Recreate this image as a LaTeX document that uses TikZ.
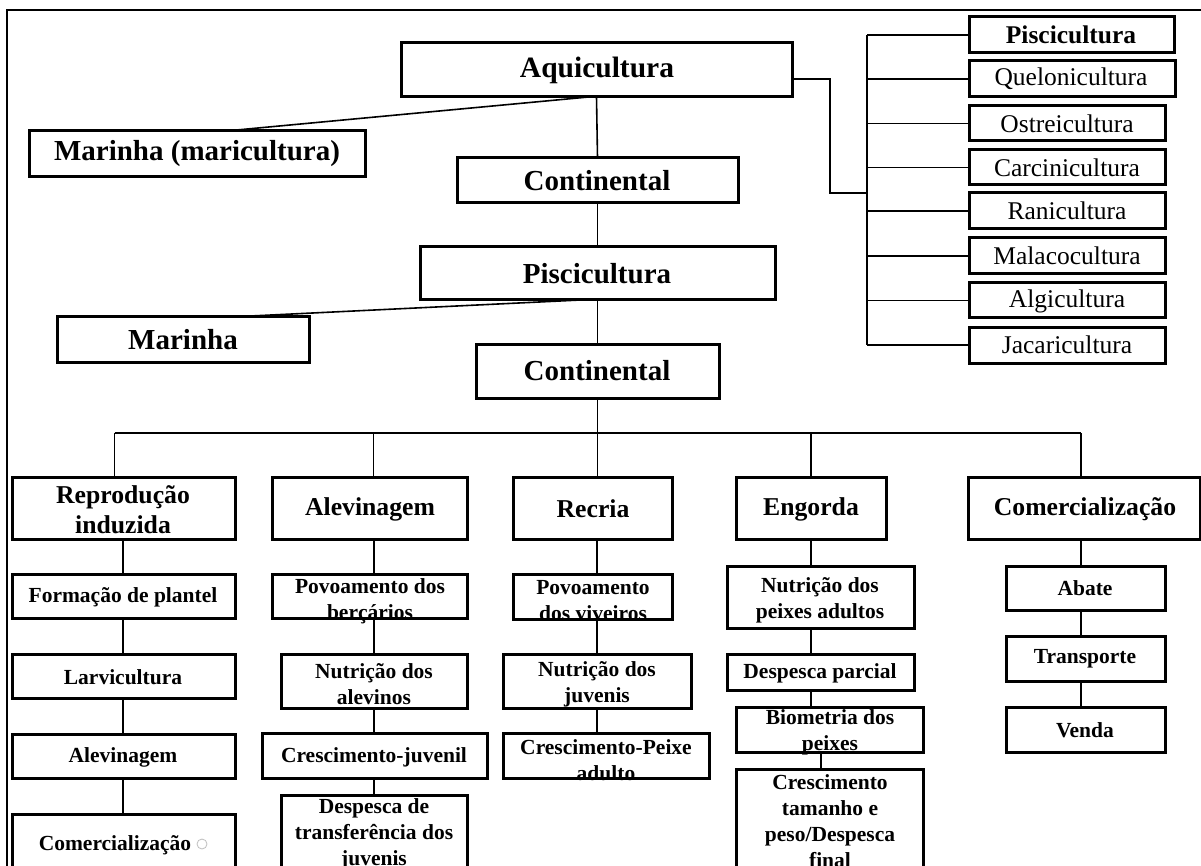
\documentclass[tikz,border=0pt]{standalone}
\usepackage{fontspec}
\setmainfont{Liberation Serif}
\usetikzlibrary{calc}
\tikzset{
  bx/.style={draw, line width=3pt, inner sep=0pt, outer sep=0pt, fill=white},
  ln/.style={line width=1.6pt},
  lbl/.style={align=center, inner sep=0pt, text=black},
  ftop/.style={lbl, font=\bfseries\fontsize{29.5}{34}\selectfont},
  fmid/.style={lbl, font=\bfseries\fontsize{29}{34}\selectfont},
  fright/.style={lbl, font=\fontsize{25.5}{30}\selectfont},
  frightb/.style={lbl, font=\bfseries\fontsize{25.5}{30}\selectfont},
  fhead/.style={lbl, font=\bfseries\fontsize{25.7}{30}\selectfont},
  fitem/.style={lbl, font=\bfseries\fontsize{21.5}{26}\selectfont},
}
% \mybox{name}{x1}{y1}{x2}{y2}{label style}{text}{text center x}{text center y}
\newcommand\mybox[9]{%
  \node[bx, minimum width={#4-#2}, minimum height={#5-#3}] (#1) at ({(#2+#4)/2},{(#3+#5)/2}) {};
  \node[#6] (#1-t) at (#8,#9) {#7};
}
\begin{document}
\begin{tikzpicture}[x=1pt,y=-1pt]
\useasboundingbox (0,0) rectangle (1201,866);
\clip (0,0) rectangle (1201,866);
\fill[white] (0,0) rectangle (1201,866);
% frame
\draw[line width=2.2pt] (7,870) -- (7,10) -- (1205,10);

% upper part
\mybox{aq}{401}{43}{792}{97}{ftop}{Aquicultura}{597}{70}
\mybox{marm}{29}{131}{365}{177}{fmid}{Marinha (maricultura)}{197}{154}
\mybox{contA}{457}{158}{738}{203}{fmid}{Continental}{597}{181}
\mybox{pisB}{420}{247}{775}{300}{fmid}{Piscicultura}{597}{274}
\mybox{mar}{57}{317}{309}{362}{fmid}{Marinha}{183}{340}
\mybox{contB}{476}{344}{719}{398}{fmid}{Continental}{597}{371}

% right list
\mybox{r1}{969}{17}{1174}{53}{frightb}{Piscicultura}{1071}{35}
\mybox{r2}{969}{61}{1175}{97}{fright}{Quelonicultura}{1071}{79}
\mybox{r3}{969}{106}{1165}{141}{fright}{Ostreicultura}{1067}{124}
\mybox{r4}{969}{150}{1165}{185}{fright}{Carcinicultura}{1067}{168}
\mybox{r5}{969}{193}{1165}{229}{fright}{Ranicultura}{1067}{211}
\mybox{r6}{969}{238}{1165}{274}{fright}{Malacocultura}{1067}{256}
\mybox{r7}{969}{283}{1165}{318}{fright}{Algicultura}{1067}{301}
\mybox{r8}{969}{327}{1165}{363}{fright}{Jacaricultura}{1067}{345}

% column headers
\mybox{h1}{12}{477}{235}{539}{fhead}{Reprodução\\induzida}{123}{510}
\mybox{h2}{272}{477}{467}{539}{fhead}{Alevinagem}{370}{509}
\mybox{h3}{513}{477}{672}{539}{fhead}{Recria}{593}{509}
\mybox{h4}{736}{477}{886}{539}{fhead}{Engorda}{811}{509}
\mybox{h5}{968}{477}{1200}{539}{fhead}{Comercialização}{1085}{509}

% column 1
\mybox{a1}{12}{574}{235}{618}{fitem}{Formação de plantel}{123}{597}
\mybox{a2}{12}{654}{235}{698}{fitem}{Larvicultura}{123}{677}
\mybox{a3}{12}{734}{235}{778}{fitem}{Alevinagem}{123}{757}
\mybox{a4}{12}{814}{235}{885}{fitem}{Comercialização}{115}{845}
\draw[black!25, line width=0.8pt] (202,844) circle (5);

% column 2
\mybox{b1}{272}{574}{467}{618}{fitem}{Povoamento dos\\berçários}{370}{601}
\mybox{b2}{281}{654}{467}{708}{fitem}{Nutrição dos\\alevinos}{374}{684}
\mybox{b3}{262}{733}{487}{778}{fitem}{Crescimento-juvenil}{374}{757}
\mybox{b4}{281}{795}{467}{885}{fitem}{Despesca de\\transferência dos\\juvenis}{374}{834}

% column 3
\mybox{c1}{513}{574}{672}{619}{fitem}{Povoamento\\dos viveiros}{593}{601}
\mybox{c2}{503}{654}{691}{708}{fitem}{Nutrição dos\\juvenis}{597}{684}
\mybox{c3}{503}{733}{709}{778}{fitem}{Crescimento-Peixe\\adulto}{606}{760}

% column 4
\mybox{d1}{727}{566}{914}{628}{fitem}{Nutrição dos\\peixes adultos}{820}{600}
\mybox{d2}{727}{654}{914}{690}{fitem}{Despesca parcial}{820}{673}
\mybox{d3}{736}{707}{923}{752}{fitem}{Biometria dos\\peixes}{830}{732}
\mybox{d4}{736}{769}{923}{890}{fitem}{Crescimento\\tamanho e\\peso/Despesca\\final}{830}{821}

% column 5
\mybox{e1}{1006}{566}{1165}{610}{fitem}{Abate}{1085}{588}
\mybox{e2}{1006}{636}{1165}{681}{fitem}{Transporte}{1085}{659}
\mybox{e3}{1006}{707}{1165}{752}{fitem}{Venda}{1085}{730}

% ---- connectors (upper)
\draw[ln] ($(aq.south)+(-8,0)$) -- ($(marm.north)+(29,0)$);
\draw[ln] (aq.south) -- (contA.north);
\draw[ln] (contA.south) -- (pisB.north);
\draw[ln] ($(pisB.south)+(-17,0)$) -- ($(mar.north)+(47,0)$);
\draw[ln] (pisB.south) -- (contB.north);

% right list trunk
\coordinate (tr) at (867,0);
\coordinate (el) at (830,193);
\draw[ln] ($(aq.east)+(0,9)$) -| (el) -- (el -| tr);
\draw[ln] (r1.west -| tr) -- (r8.west -| tr);
\foreach \r in {r1,r2,r3,r4,r5,r6,r7,r8} \draw[ln] (\r.west) -- (\r.west -| tr);

% bus
\coordinate (bus) at (0,433);
\coordinate (s1) at ($(h1.north)+(-9,0)$);
\coordinate (s2) at ($(h2.north)+(4,0)$);
\coordinate (s3) at (h3.north -| contB.south);
\coordinate (s4) at (h4.north);
\coordinate (s5) at ($(h5.north)+(-3,0)$);
\draw[ln] (contB.south) -- (contB.south |- bus);
\draw[ln] (s1 |- bus) -- (s5 |- bus);
\foreach \s in {s1,s2,s3,s4,s5} \draw[ln] (\s) -- (\s |- bus);

% column connectors
\coordinate (x1) at (123,0);
\coordinate (x2) at (374,0);
\coordinate (x3) at (597,0);
\coordinate (x4) at (811,0);
\coordinate (x4b) at (821,0);
\coordinate (x5) at (1081,0);
\draw[ln] (h1.south -| x1) -- (a1.north -| x1);
\draw[ln] (a1.south -| x1) -- (a2.north -| x1);
\draw[ln] (a2.south -| x1) -- (a3.north -| x1);
\draw[ln] (a3.south -| x1) -- (a4.north -| x1);
\draw[ln] (h2.south -| x2) -- (b1.north -| x2);
\draw[ln] (b1.south -| x2) -- (b2.north -| x2);
\draw[ln] (b2.south -| x2) -- (b3.north -| x2);
\draw[ln] (b3.south -| x2) -- (b4.north -| x2);
\draw[ln] (h3.south -| x3) -- (c1.north -| x3);
\draw[ln] (c1.south -| x3) -- (c2.north -| x3);
\draw[ln] (c2.south -| x3) -- (c3.north -| x3);
\draw[ln] (h4.south -| x4) -- (d1.north -| x4);
\draw[ln] (d1.south -| x4) -- (d2.north -| x4);
\draw[ln] (d2.south -| x4) -- (d3.north -| x4);
\draw[ln] (d3.south -| x4b) -- (d4.north -| x4b);
\draw[ln] (h5.south -| x5) -- (e1.north -| x5);
\draw[ln] (e1.south -| x5) -- (e2.north -| x5);
\draw[ln] (e2.south -| x5) -- (e3.north -| x5);
\end{tikzpicture}
\end{document}
